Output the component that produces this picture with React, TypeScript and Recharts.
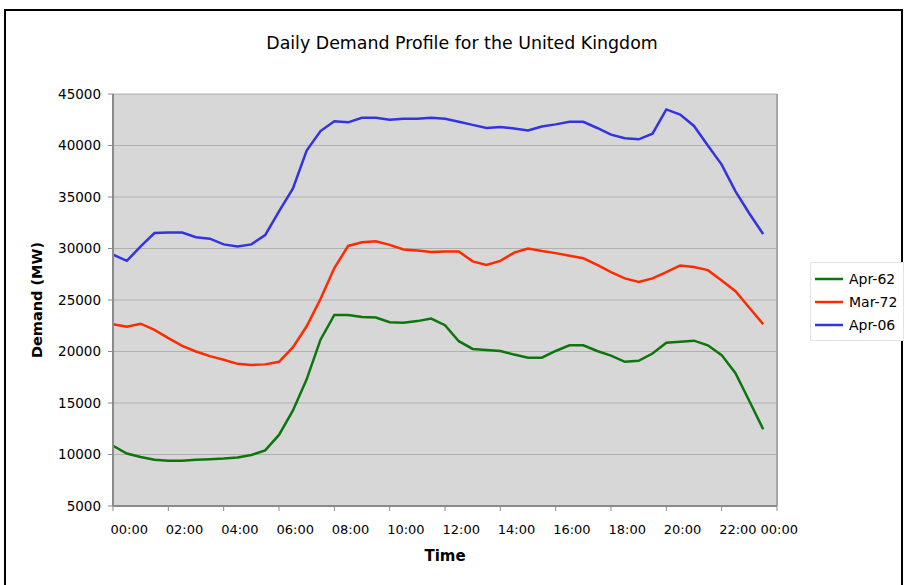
import {
  CartesianGrid,
  Label,
  Line,
  LineChart,
  ReferenceLine,
  XAxis,
  YAxis,
} from 'recharts'

const FONT = '"DejaVu Sans", Verdana, sans-serif'

// half-hour readings, 00:00 .. 23:30
const HOURS = [
  0, 0.5, 1, 1.5, 2, 2.5, 3, 3.5, 4, 4.5, 5, 5.5, 6, 6.5, 7, 7.5, 8, 8.5, 9, 9.5, 10, 10.5, 11, 11.5,
  12, 12.5, 13, 13.5, 14, 14.5, 15, 15.5, 16, 16.5, 17, 17.5, 18, 18.5, 19, 19.5, 20, 20.5, 21, 21.5,
  22, 22.5, 23, 23.5,
]

const APR_62 = [
  10850, 10100, 9750, 9500, 9400, 9400, 9500, 9550, 9600, 9700, 9950, 10400, 11900, 14250, 17300, 21150,
  23550, 23550, 23350, 23300, 22850, 22800, 22950, 23200, 22550, 21000, 20250, 20150, 20050, 19700, 19400, 19400,
  20050, 20600, 20600, 20050, 19600, 19000, 19100, 19800, 20850, 20950, 21050, 20600, 19650, 17900, 15200, 12450,
]

const MAR_72 = [
  22650, 22400, 22700, 22100, 21300, 20550, 20000, 19550, 19200, 18800, 18700, 18750, 19000, 20400, 22450, 25100,
  28100, 30250, 30600, 30700, 30350, 29900, 29800, 29650, 29700, 29700, 28750, 28400, 28800, 29600, 30000, 29750,
  29550, 29300, 29050, 28400, 27700, 27100, 26750, 27100, 27700, 28350, 28200, 27900, 26900, 25850, 24250, 22650,
]

const APR_06 = [
  29400, 28800, 30200, 31500, 31550, 31550, 31100, 30950, 30400, 30200, 30400, 31300, 33600, 35800, 39500, 41400,
  42350, 42250, 42700, 42700, 42500, 42600, 42600, 42700, 42600, 42300, 42000, 41700, 41800, 41650, 41450, 41850,
  42050, 42300, 42300, 41700, 41050, 40700, 40600, 41150, 43500, 43000, 41900, 40000, 38150, 35550, 33400, 31400,
]

const SERIES_NAMES = ['Apr-62', 'Mar-72', 'Apr-06']
const SERIES_KEYS = ['apr62', 'mar72', 'apr06']
const SERIES_COLORS = ['#0c760c', '#ff2a00', '#3333e0']

const X_TICKS = [0, 2, 4, 6, 8, 10, 12, 14, 16, 18, 20, 22, 24]
const X_TICK_LABELS = [
  '00:00', '02:00', '04:00', '06:00', '08:00', '10:00', '12:00', '14:00', '16:00', '18:00', '20:00', '22:00', '00:00',
]
const Y_TICKS = [5000, 10000, 15000, 20000, 25000, 30000, 35000, 40000, 45000]

const data = HOURS.map((hour, i) => ({
  hour,
  apr62: APR_62[i],
  mar72: MAR_72[i],
  apr06: APR_06[i],
}))

function TimeTick({ x, y, payload }: any) {
  const idx = X_TICKS.indexOf(payload.value)
  const last = idx === X_TICKS.length - 1
  return (
    <text
      x={last ? x + 21 : x - 2.5}
      y={y}
      dy="0.71em"
      textAnchor={last ? 'end' : 'start'}
      fill="#000"
      fontSize={13}
      fontFamily={FONT}
    >
      {X_TICK_LABELS[idx]}
    </text>
  )
}

function LegendBox() {
  return (
    <div
      style={{
        position: 'absolute',
        left: 810,
        top: 262,
        width: 94,
        border: '1px solid #e3e3e3',
        background: '#fff',
        padding: '4px 0 4px 4px',
        boxSizing: 'border-box',
        fontFamily: FONT,
        fontSize: 14,
        color: '#000',
      }}
    >
      {SERIES_NAMES.map((name, i) => (
        <div key={name} style={{ display: 'flex', alignItems: 'center', height: 23 }}>
          <svg width={28} height={4} style={{ marginRight: 6 }}>
            <line x1={0} y1={2} x2={28} y2={2} stroke={SERIES_COLORS[i]} strokeWidth={2.5} />
          </svg>
          <span>{name}</span>
        </div>
      ))}
    </div>
  )
}

export default function App() {
  return (
    <div
      style={{
        position: 'fixed',
        left: 0,
        top: 0,
        width: 905,
        height: 585,
        overflow: 'hidden',
        background: '#fff',
        fontFamily: FONT,
      }}
    >
      <div
        style={{
          position: 'absolute',
          left: 4,
          top: 9,
          width: 899,
          height: 620,
          border: '2px solid #000',
          boxSizing: 'border-box',
        }}
      />
      <div
        style={{
          position: 'absolute',
          left: 0,
          top: 33,
          width: 924,
          textAlign: 'center',
          fontSize: 17.4,
          color: '#000',
        }}
      >
        Daily Demand Profile for the United Kingdom
      </div>
      <div style={{ position: 'absolute', left: 0, top: 0 }}>
        <LineChart
          width={905}
          height={585}
          data={data}
          margin={{ top: 94, right: 128, bottom: 49, left: 53 }}
          style={{ fontFamily: FONT }}
        >
          <CartesianGrid vertical={false} fill="#d7d7d7" fillOpacity={1} stroke="#b0b0b0" />
          <XAxis
            dataKey="hour"
            type="number"
            domain={[0, 24]}
            ticks={X_TICKS}
            interval={0}
            height={30}
            tickSize={5}
            tickMargin={14}
            tick={<TimeTick />}
            axisLine={{ stroke: '#8a8a8a', strokeWidth: 2 }}
            tickLine={{ stroke: '#8a8a8a' }}
          >
            <Label value="Time" position="bottom" offset={14} style={{ fontWeight: 'bold', fontSize: 15, fill: '#000' }} />
          </XAxis>
          <YAxis
            type="number"
            domain={[5000, 45000]}
            ticks={Y_TICKS}
            interval={0}
            width={60}
            tickSize={5}
            tickMargin={7}
            tick={{ fill: '#000', fontSize: 13.5 }}
            axisLine={{ stroke: '#8a8a8a', strokeWidth: 2 }}
            tickLine={{ stroke: '#8a8a8a' }}
          >
            <Label
              value="Demand (MW)"
              angle={-90}
              position="insideLeft"
              offset={-16}
              style={{ textAnchor: 'middle', fontWeight: 'bold', fontSize: 14.5, fill: '#000' }}
            />
          </YAxis>
          <ReferenceLine x={24} stroke="#a6a6a6" strokeWidth={2} />
          {SERIES_KEYS.map((key, i) => (
            <Line
              key={key}
              dataKey={key}
              name={SERIES_NAMES[i]}
              stroke={SERIES_COLORS[i]}
              strokeWidth={2.5}
              dot={false}
              isAnimationActive={false}
            />
          ))}
        </LineChart>
      </div>
      <LegendBox />
    </div>
  )
}
